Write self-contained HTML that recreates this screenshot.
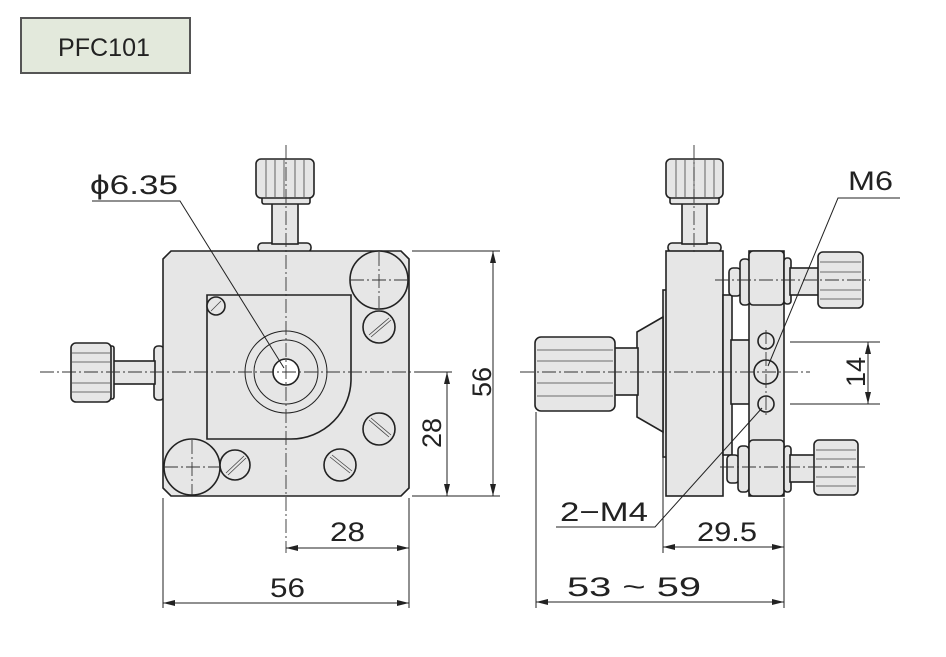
<!DOCTYPE html>
<html><head><meta charset="utf-8"><style>
html,body{margin:0;padding:0;background:#fff;}
svg{display:block;}
text{font-family:"Liberation Sans",sans-serif;fill:#222;}
</style></head><body>
<svg width="946" height="657" viewBox="0 0 946 657" xmlns="http://www.w3.org/2000/svg">
<defs>
<marker id="a" viewBox="0 0 12 6" refX="12" refY="3" markerWidth="12" markerHeight="6" markerUnits="userSpaceOnUse" orient="auto-start-reverse"><path d="M0,0 L12,3 L0,6 z" fill="#222"/></marker>
</defs>
<rect x="21" y="18" width="169" height="55" fill="#e3e9dc" stroke="#555" stroke-width="2"/>
<text x="58" y="56" font-size="25" fill="#111" textLength="92" lengthAdjust="spacingAndGlyphs">PFC101</text>

<g stroke="#222" stroke-width="1.6" fill="#e6e6e6">
<rect x="258" y="243" width="53" height="9" rx="4"/>
<rect x="272" y="202" width="26" height="42"/>
<rect x="262" y="196" width="48" height="8" rx="2"/>
<rect x="256" y="159" width="58" height="39" rx="5"/>
<rect x="154" y="346" width="10" height="54" rx="4"/>
<rect x="112" y="361" width="43" height="23"/>
<rect x="108" y="346" width="6" height="53" rx="2"/>
<rect x="71" y="343" width="40" height="59" rx="5"/>
<path d="M171,251 L401,251 L409,259 L409,488 L401,496 L171,496 L163,488 L163,259 Z"/>
<path d="M207,295 L351,295 L351,378 A60,60 0 0 1 291,439 L207,439 Z" fill="#e6e6e6"/>
<circle cx="286" cy="372" r="41" fill="none" stroke-width="1"/>
<circle cx="286" cy="372" r="32" fill="none" stroke-width="1"/>
<circle cx="286" cy="372" r="13" fill="#fff"/>
<circle cx="379" cy="280" r="29"/>
<circle cx="192" cy="467" r="28"/>
<circle cx="379" cy="327" r="16"/>
<circle cx="379" cy="429" r="16"/>
<circle cx="340" cy="465" r="16"/>
<circle cx="235" cy="465" r="15"/>
<circle cx="216" cy="306" r="9"/>

<rect x="668" y="243" width="53" height="9" rx="4"/>
<rect x="682" y="202" width="25" height="42"/>
<rect x="670" y="196" width="49" height="8" rx="2"/>
<rect x="666" y="159" width="57" height="39" rx="5"/>
<rect x="663" y="290" width="4" height="167"/>
<path d="M663,317 L637,332 L637,417 L663,432 Z"/>
<rect x="614" y="348" width="24" height="47"/>
<rect x="535" y="337" width="80" height="74" rx="6"/>
<rect x="666" y="251" width="57" height="245"/>
<rect x="723" y="295" width="9" height="160"/>
<rect x="731" y="340" width="19" height="64"/>
<rect x="749" y="251" width="35" height="245"/>
<rect x="729" y="268" width="12" height="28" rx="4"/>
<rect x="740" y="259" width="10" height="46" rx="4"/>
<rect x="749" y="251" width="35" height="54" rx="4"/>
<rect x="784" y="258" width="7" height="46" rx="3"/>
<rect x="790" y="268" width="29" height="27"/>
<rect x="818" y="252" width="45" height="56" rx="5"/>
<rect x="727" y="455" width="12" height="28" rx="4"/>
<rect x="738" y="446" width="11" height="46" rx="4"/>
<rect x="749" y="440" width="35" height="56" rx="4"/>
<rect x="784" y="446" width="7" height="46" rx="3"/>
<rect x="790" y="455" width="25" height="27"/>
<rect x="814" y="440" width="44" height="55" rx="5"/>
<circle cx="766" cy="341" r="8"/>
<circle cx="766" cy="372" r="12"/>
<circle cx="766" cy="404" r="8"/>
</g>

<g stroke="#444" stroke-width="0.8">
<path d="M266,160V197M275,160V197M284,160V197M295,160V197M304,160V197"/>
<path d="M676,160V197M685,160V197M694,160V197M705,160V197M714,160V197"/>
<path d="M72,353H110M72,362H110M72,383H110M72,392H110"/>
<path d="M537,350H613M537,361H613M537,383H613M537,396H613"/>
<path d="M820,262H861M820,272H861M820,290H861M820,299H861"/>
<path d="M816,450H856M816,459H856M816,477H856M816,486H856"/>
<path d="M369,335L389,318M371,337L391,320"/>
<path d="M369,420L389,437M371,418L391,435"/>
<path d="M330,457L350,473M332,455L352,471"/>
<path d="M226,473L244,456M228,475L246,458"/>
<path d="M211,311L221,301"/>
</g>

<g stroke="#333" stroke-width="0.9" stroke-dasharray="14,3,2,3" fill="none">
<path d="M40,372H450"/>
<path d="M286,145V553"/>
<path d="M350,280H408M379,252V308"/>
<path d="M164,467H220M192,440V495"/>
<path d="M520,372H810"/>
<path d="M694,145V253"/>
<path d="M715,280H870M720,467H865"/>
<path d="M766,330V415"/>
</g>

<g stroke="#222" stroke-width="1" fill="none">
<path d="M412,251H500M412,496H500M415,372H452"/>
<path d="M163,498V608M409,498V608"/>
<path d="M493,251V496" marker-start="url(#a)" marker-end="url(#a)"/>
<path d="M447,372V496" marker-start="url(#a)" marker-end="url(#a)"/>
<path d="M286,548H409" marker-start="url(#a)" marker-end="url(#a)"/>
<path d="M163,603H409" marker-start="url(#a)" marker-end="url(#a)"/>
<path d="M92,201H180L284,368"/>
<path d="M536,412V608M784,498V608M663,457V553"/>
<path d="M790,342H880M790,404H880"/>
<path d="M868,342V404" marker-start="url(#a)" marker-end="url(#a)"/>
<path d="M663,547H784" marker-start="url(#a)" marker-end="url(#a)"/>
<path d="M536,602H784" marker-start="url(#a)" marker-end="url(#a)"/>
<path d="M900,198H838L768,366"/>
<path d="M556,527H655L762,408"/>
</g>

<g font-size="27">
<text x="90" y="194" textLength="88" lengthAdjust="spacingAndGlyphs">ϕ6.35</text>
<text x="330" y="541" textLength="35" lengthAdjust="spacingAndGlyphs">28</text>
<text x="270" y="597" textLength="35" lengthAdjust="spacingAndGlyphs">56</text>
<text transform="translate(491,382) rotate(-90)" text-anchor="middle">56</text>
<text transform="translate(441,433) rotate(-90)" text-anchor="middle">28</text>
<text x="848" y="190" textLength="45" lengthAdjust="spacingAndGlyphs">M6</text>
<text x="560" y="521" textLength="88" lengthAdjust="spacingAndGlyphs">2−M4</text>
<text x="697" y="541" textLength="60" lengthAdjust="spacingAndGlyphs">29.5</text>
<text x="567" y="596" textLength="134" lengthAdjust="spacingAndGlyphs">53 ~ 59</text>
<text transform="translate(865,372) rotate(-90)" text-anchor="middle">14</text>
</g>
</svg>
</body></html>
